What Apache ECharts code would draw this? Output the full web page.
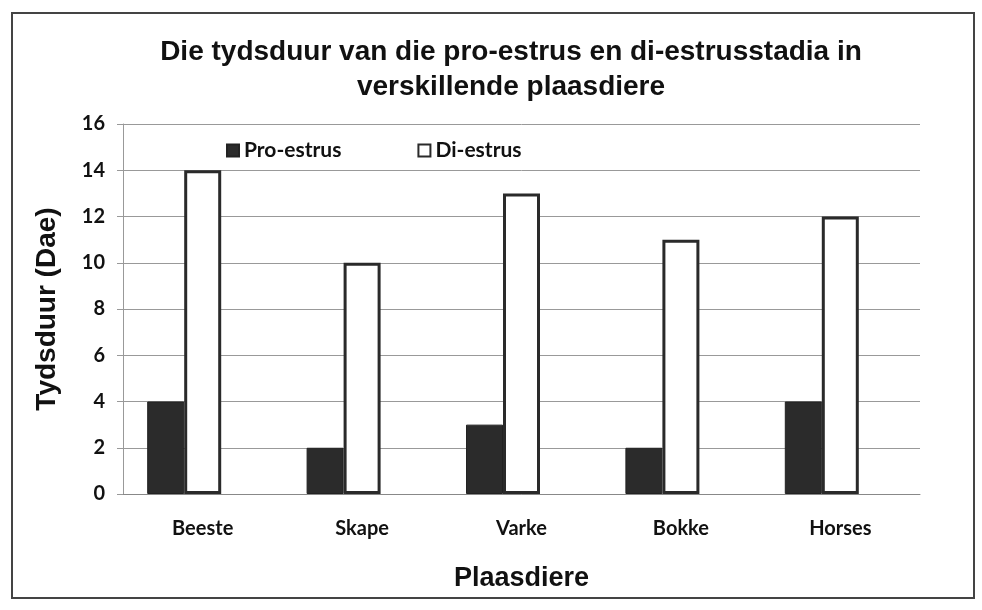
<!DOCTYPE html>
<html>
<head>
<meta charset="utf-8">
<script src="https://cdn.jsdelivr.net/npm/echarts@6/dist/echarts.min.js"></script>
<style>
  html, body { margin: 0; padding: 0; background: #fff; }
  #chart { width: 982px; height: 610px; }
</style>
</head>
<body>
<div id="chart"></div>
<script>
var dom = document.getElementById("chart");
var myChart = echarts.init(dom);

var animals = ['Beeste', 'Skape', 'Varke', 'Bokke', 'Horses'];
var proEstrus = [4, 2, 3, 2, 4];
var diEstrus = [14, 10, 13, 11, 12];
var spacer = [null, null, null, null, null];   // empty slot, the bars sit left of the label in the scan

var option = {
    backgroundColor: '#fff',
    animation: false,
    title: {
        text: 'Die tydsduur van die pro-estrus en di-estrusstadia in\nverskillende plaasdiere',
        left: 506,
        top: 30,
        textAlign: 'center',
        textStyle: {
            fontFamily: 'Liberation Sans',
            fontWeight: 'bold',
            fontSize: 28,
            lineHeight: 35,
            color: '#111'
        }
    },
    legend: {
        data: ['Pro-estrus', 'Di-estrus'],
        left: 221,
        top: 135,
        itemGap: 76,
        itemWidth: 12,
        itemHeight: 12,
        icon: 'rect',
        textStyle: {
            fontFamily: 'Lato',
            fontWeight: 'bold',
            fontSize: 21,
            color: '#111'
        }
    },
    grid: {
        left: 123,
        right: 62,
        top: 124,
        bottom: 116
    },
    graphic: [{
        type: 'rect',
        shape: { x: 12, y: 13, width: 962, height: 585 },
        style: { fill: 'none', stroke: '#444', lineWidth: 2 },
        silent: true
    }],
    xAxis: {
        type: 'category',
        data: animals,
        name: 'Plaasdiere',
        nameLocation: 'middle',
        nameGap: 71,
        nameTextStyle: {
            fontFamily: 'Liberation Sans',
            fontWeight: 'bold',
            fontSize: 27,
            color: '#111'
        },
        axisLine: { lineStyle: { color: '#888' } },
        axisTick: { show: false },
        axisLabel: {
            margin: 25,
            fontFamily: 'Lato',
            fontWeight: 'bold',
            fontSize: 20,
            color: '#111'
        }
    },
    yAxis: {
        type: 'value',
        min: 0,
        max: 16,
        interval: 2,
        name: 'Tydsduur (Dae)',
        nameLocation: 'middle',
        nameGap: 62,
        nameTextStyle: {
            fontFamily: 'Liberation Sans',
            fontWeight: 'bold',
            fontSize: 28,
            color: '#111'
        },
        axisLine: { show: true, lineStyle: { color: '#999' } },
        axisTick: { show: true, length: 6, lineStyle: { color: '#999' } },
        splitLine: { lineStyle: { color: '#999', width: 1 } },
        axisLabel: {
            margin: 18,
            fontFamily: 'Lato',
            fontWeight: 'bold',
            fontSize: 20,
            color: '#111'
        }
    },
    series: [{
        name: 'Pro-estrus',
        type: 'bar',
        data: proEstrus,
        barWidth: 37,
        barGap: '0%',
        itemStyle: { color: '#2b2b2b', borderColor: '#222', borderWidth: 1 }
    }, {
        name: 'Di-estrus',
        type: 'bar',
        data: diEstrus,
        barWidth: 37,
        barGap: '0%',
        itemStyle: { color: '#fff', borderColor: '#2a2a2a', borderWidth: 3 }
    }, {
        name: 'spacer',
        type: 'bar',
        data: spacer,
        barWidth: 37,
        barGap: '0%',
        silent: true
    }]
};

if (option && typeof option === "object") {
    myChart.setOption(option, true);
}
</script>
</body>
</html>
